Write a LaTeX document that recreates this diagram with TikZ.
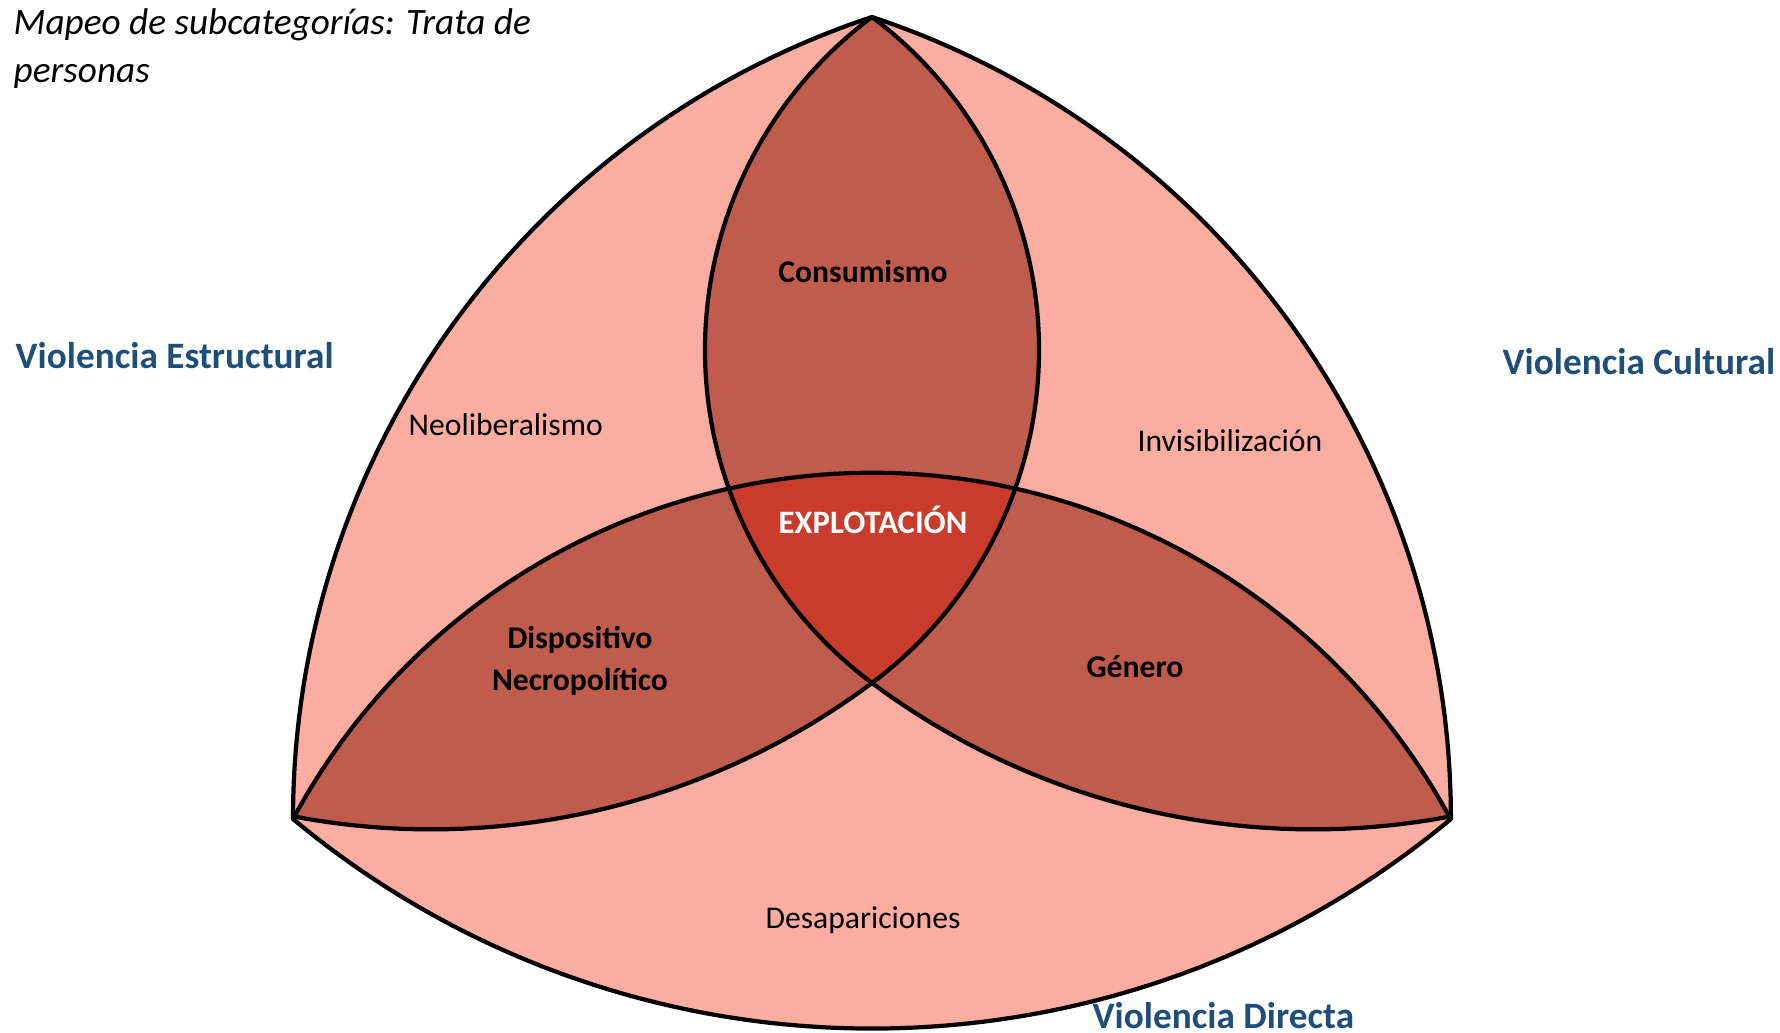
\documentclass[tikz,border=0pt]{standalone}
\usepackage{fontspec}
\setmainfont{Carlito}
\usepackage{tikz}
\usepackage{xcolor}
\definecolor{outerpink}{RGB}{250,173,160}
\definecolor{lensred}{RGB}{192,92,78}
\definecolor{corered}{RGB}{201,60,44}
\definecolor{headblue}{RGB}{31,78,121}

% inner curves of the three lenses (two circle arcs each)
\newcommand{\curveA}{(T) arc[start angle=53.27, end angle=-53.27, radius=4.155] arc[start angle=-53.27, end angle=-100.75, radius=7.373] -- (L)}
\newcommand{\curveB}{(T) arc[start angle=126.73, end angle=233.27, radius=4.155] arc[start angle=233.27, end angle=280.75, radius=7.373] -- (R)}
\newcommand{\curveD}{(L) arc[start angle=151.76, end angle=28.24, radius=6.57]}
\newcommand{\lensTL}{\curveA arc[start angle=180, end angle=108.35, radius=8.45] -- cycle}
\newcommand{\lensTR}{\curveB arc[start angle=0, end angle=71.65, radius=8.45] -- cycle}
\newcommand{\lensLR}{\curveD -- (R) arc[start angle=309.8, end angle=230.2, radius=9.045] -- cycle}

\begin{document}
\begin{tikzpicture}[every node/.style={inner sep=0pt, font=\fontsize{9}{12}\selectfont},
    headlabel/.style={font=\fontsize{10.6}{13}\selectfont\bfseries, headblue},
    sublabel/.style={font=\fontsize{9}{12}\selectfont},
    lenslabel/.style={font=\fontsize{9}{12}\selectfont\bfseries, align=center},
    titlelabel/.style={font=\fontsize{10.6}{13}\selectfont\itshape, anchor=base west},
    outline/.style={line width=1.2pt, line join=round}]
  \useasboundingbox (0,0) rectangle (17.80,10.33);

  % Corners of the shape
  \coordinate (T) at (8.72,10.16);
  \coordinate (L) at (2.93,2.14);
  \coordinate (R) at (14.51,2.14);
  \coordinate (C) at (8.72,3.50);

  % Outer shape
  \fill[outerpink] (T) arc[start angle=108.35, end angle=180, radius=8.45]
    arc[start angle=230.2, end angle=309.8, radius=9.045]
    arc[start angle=0, end angle=71.65, radius=8.45] -- cycle;

  % Overlaps of two lenses
  \begin{scope}
    \clip \lensTL;
    \fill[lensred] \lensTR;
    \fill[lensred] \lensLR;
  \end{scope}
  \begin{scope}
    \clip \lensTR;
    \fill[lensred] \lensLR;
  \end{scope}
  % Overlap of all three
  \begin{scope}
    \clip \lensTL;
    \clip \lensTR;
    \fill[corered] \lensLR;
  \end{scope}

  % Lines
  \draw[outline] (T) arc[start angle=108.35, end angle=180, radius=8.45]
    arc[start angle=230.2, end angle=309.8, radius=9.045]
    arc[start angle=0, end angle=71.65, radius=8.45] -- cycle;
  \draw[outline] \curveA;
  \draw[outline] \curveB;
  \draw[outline] \curveD;

  % Title
  \node[titlelabel] (title1) at (0.13,9.98) {Mapeo de subcategorías: Trata de};
  \node[titlelabel] (title2) at (0.13,9.50) {personas};

  % Three kinds of violence
  \node[headlabel, anchor=base west] (estructural) at (0.15,6.64) {Violencia Estructural};
  \node[headlabel, anchor=base west] (cultural) at (15.02,6.58) {Violencia Cultural};
  \node[headlabel, anchor=base west] (directa) at (10.92,0.04) {Violencia Directa};

  % Regions
  \node[sublabel, anchor=base west] (neolib) at (4.08,5.97) {Neoliberalismo};
  \node[sublabel, anchor=base east] (invis) at (13.23,5.81) {Invisibilización};
  \node[sublabel] (desap) at (8.63,1.13) {Desapariciones};
  \node[lenslabel, anchor=base] (consum) at (8.63,7.50) {Consumismo};
  \node[lenslabel] (necro) at (5.80,3.72) {Dispositivo\\Necropolítico};
  \node[lenslabel] (genero) at (11.35,3.66) {Género};
  \node[lenslabel, anchor=base, white, font=\fontsize{9.3}{12}\selectfont\bfseries] (explot) at (8.73,4.99) {EXPLOTACIÓN};
\end{tikzpicture}
\end{document}
